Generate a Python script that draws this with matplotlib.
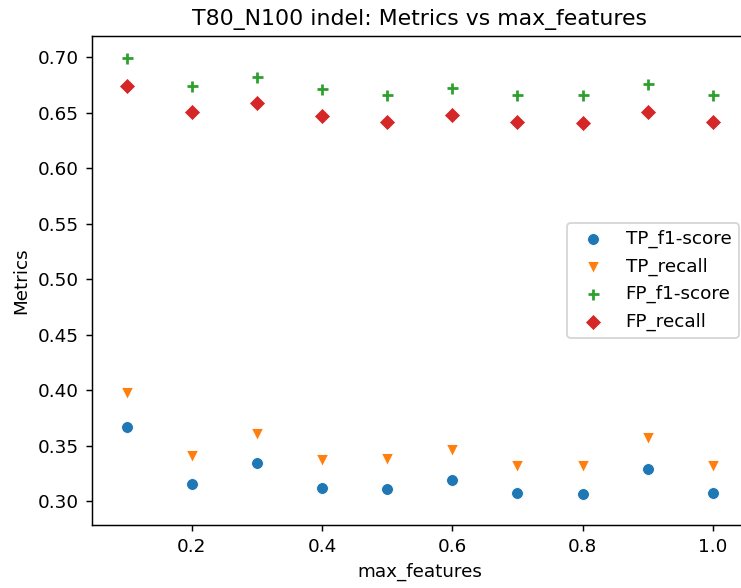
import matplotlib
matplotlib.use("Agg")
import matplotlib.pyplot as plt

# data
max_features = [0.1, 0.2, 0.3, 0.4, 0.5, 0.6, 0.7, 0.8, 0.9, 1.0]
tp_f1 = [0.367, 0.315, 0.334, 0.312, 0.311, 0.319, 0.307, 0.306, 0.329, 0.307]
tp_recall = [0.397, 0.341, 0.360, 0.337, 0.338, 0.346, 0.332, 0.332, 0.357, 0.332]
fp_f1 = [0.699, 0.674, 0.682, 0.671, 0.666, 0.672, 0.666, 0.666, 0.676, 0.666]
fp_recall = [0.674, 0.651, 0.659, 0.647, 0.642, 0.648, 0.642, 0.641, 0.651, 0.642]

dpi = 132
fig = plt.figure(figsize=(741 / dpi, 588 / dpi), dpi=dpi)
ax = fig.add_subplot(111)

ax.scatter(max_features, tp_f1, marker="o", s=42, color="tab:blue", edgecolors="white", linewidths=0.48, label="TP_f1-score")
ax.scatter(max_features, tp_recall, marker="v", s=42, color="tab:orange", edgecolors="white", linewidths=0.48, label="TP_recall")
ax.scatter(max_features, fp_f1, marker="+", s=36, color="tab:green", linewidths=1.5, label="FP_f1-score")
ax.scatter(max_features, fp_recall, marker="D", s=40, color="tab:red", edgecolors="white", linewidths=0.48, label="FP_recall")

ax.set_xlim(0.046, 1.054)
ax.set_ylim(0.2784, 0.7192)
ax.set_title("T80_N100 indel: Metrics vs max_features")
ax.set_xlabel("max_features")
ax.set_ylabel("Metrics")
ax.legend(loc="center right")

# axes runs a little past the right edge, like the reference crop
plt.subplots_adjust(left=0.1237, right=1.0094, top=0.9388, bottom=0.1071)
fig.savefig("out.png", dpi=dpi)
